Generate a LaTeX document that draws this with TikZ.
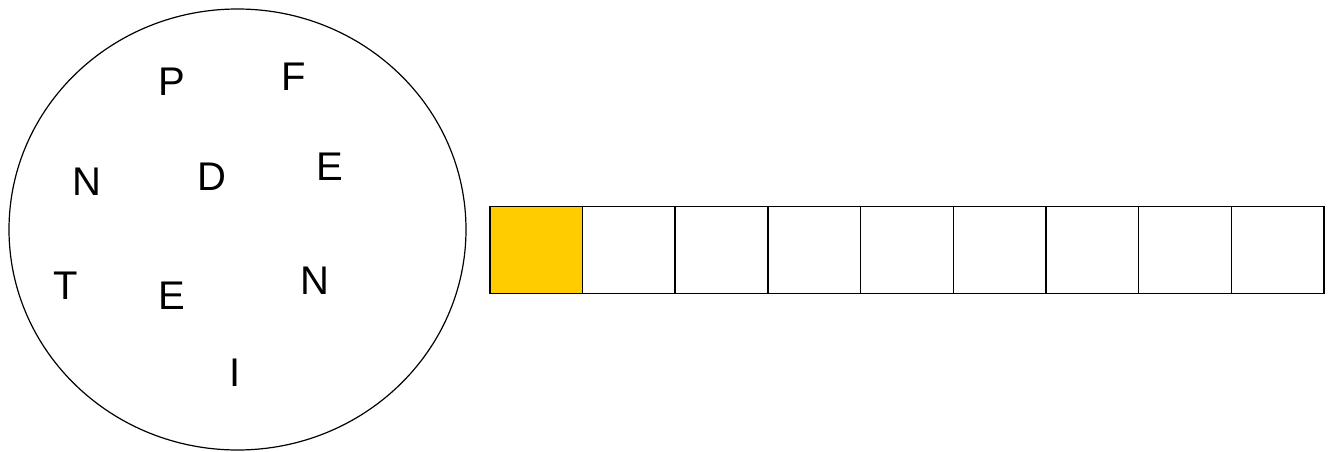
\documentclass[tikz,border=0pt]{standalone}
\usepackage{fontspec}
\setmainfont{Liberation Sans}
\usetikzlibrary{shapes.geometric}
\definecolor{gold}{HTML}{FFCC00}
\tikzset{
  letter/.style={inner sep=0pt, font=\fontsize{40}{48}\selectfont},
  cell/.style={draw=black, line width=1.5pt, minimum width=92.7pt, minimum height=87pt, inner sep=0pt, anchor=west},
  ring/.style={draw=black, line width=1.2pt, ellipse, minimum width=457pt, minimum height=441pt, inner sep=0pt}
}
\begin{document}
\begin{tikzpicture}[x=1pt,y=-1pt]
\useasboundingbox (0,0) rectangle (1333,452);
\node[ring] (bag) at (237.5,229.5) {};
\node[letter] (l1) at (171.7,81.3) {P};
\node[letter] (l2) at (293.3,76.3) {F};
\node[letter] (l3) at (87,181.3) {N};
\node[letter] (l4) at (211.8,177) {D};
\node[letter] (l5) at (329.5,167) {E};
\node[letter] (l6) at (65.5,285.3) {T};
\node[letter] (l7) at (172,295.3) {E};
\node[letter] (l8) at (314.7,281) {N};
\node[letter] (l9) at (235.3,373) {I};
\node[cell, fill=gold] (b1) at (489,250.2) {};
\foreach \i [count=\j from 2] in {1,...,8} {
  \node[cell] (b\j) at (489+92.7*\i,250.2) {};
}
\end{tikzpicture}
\end{document}
